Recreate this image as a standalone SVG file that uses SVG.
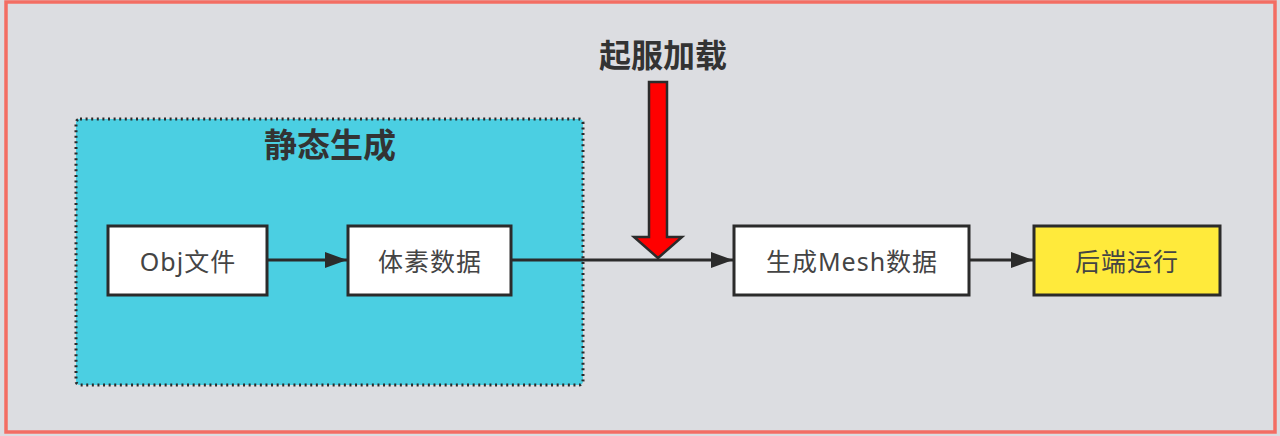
<svg xmlns="http://www.w3.org/2000/svg" width="1280" height="436" viewBox="0 0 1280 436">
<style>
.node{fill:#ffffff;stroke:#2b2b2b;stroke-width:3}
.lbl{font-family:"Noto Sans","Noto Sans CJK SC",sans-serif;font-size:25px;letter-spacing:1px;fill:#444444;text-anchor:middle;dominant-baseline:central}
.title{font-family:"Noto Sans CJK SC",sans-serif;font-weight:bold;fill:#333333;text-anchor:middle;dominant-baseline:central}
.conn{stroke:#2b2b2b;stroke-width:3;fill:none}
</style>
<defs>
<marker id="ah" markerWidth="22" markerHeight="16" refX="22" refY="8" orient="auto" markerUnits="userSpaceOnUse">
<path d="M0,0 L22,8 L0,16 Z" fill="#2b2b2b"/>
</marker>
</defs>
<rect x="0" y="0" width="1280" height="436" fill="#dcdde1"/>
<rect x="6" y="2" width="1269" height="430" fill="none" stroke="#f36d63" stroke-width="3.5"/>
<g id="group-static">
<rect x="76" y="119" width="507" height="266" rx="4" fill="#4bcfe2" stroke="#2b2b2b" stroke-width="3" stroke-dasharray="2 3.6"/>
<text class="title" x="330" y="143" style="font-size:33px">静态生成</text>
</g>
<g id="connectors">
<line class="conn" x1="267" y1="260" x2="347" y2="260" marker-end="url(#ah)"/>
<line class="conn" x1="511" y1="260" x2="733" y2="260" marker-end="url(#ah)"/>
<line class="conn" x1="969" y1="260" x2="1033" y2="260" marker-end="url(#ah)"/>
</g>
<g id="node-obj">
<rect class="node" x="108" y="226" width="159" height="69"/>
<text class="lbl" x="188" y="261">Obj文件</text>
</g>
<g id="node-voxel">
<rect class="node" x="348" y="226" width="163" height="69"/>
<text class="lbl" x="430" y="261">体素数据</text>
</g>
<g id="node-mesh">
<rect class="node" x="734" y="226" width="235" height="69"/>
<text class="lbl" x="852" y="261">生成Mesh数据</text>
</g>
<g id="node-backend">
<rect class="node" x="1034" y="226" width="186" height="69" style="fill:#ffea3b"/>
<text class="lbl" x="1127" y="261">后端运行</text>
</g>
<g id="load-arrow">
<path d="M649,82 L667,82 L667,237 L682,237 L658,258 L634,237 L649,237 Z" fill="#ff0000" stroke="#2b2b2b" stroke-width="2.5" stroke-linejoin="miter"/>
<text class="title" x="663" y="53" style="font-size:32px">起服加载</text>
</g>
</svg>
